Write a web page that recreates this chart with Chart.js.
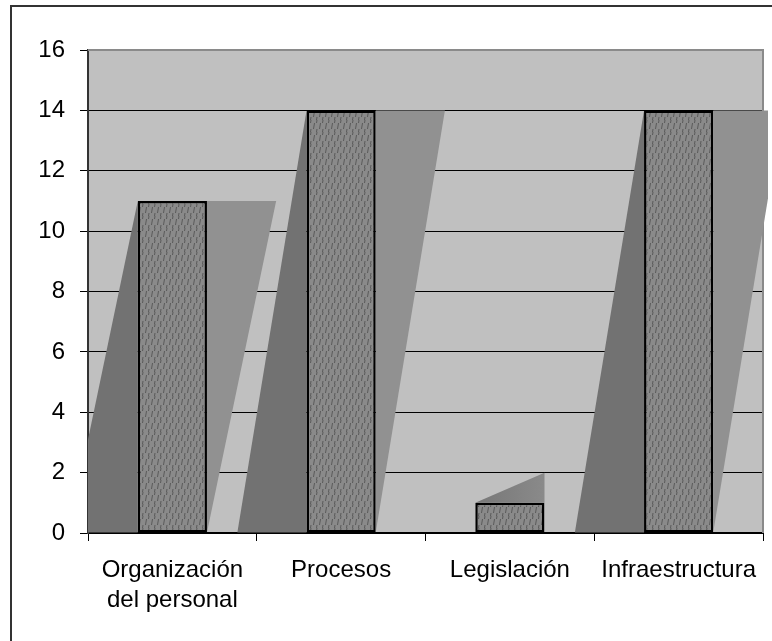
<!DOCTYPE html>
<html>
<head>
<meta charset="utf-8">
<script src="https://cdn.jsdelivr.net/npm/chart.js@4/dist/chart.umd.min.js"></script>
<style>
  html, body { margin:0; padding:0; background:#fff; overflow:hidden; }
  #frame { position:absolute; left:10px; top:5px; width:800px; height:700px; border:2px solid #333; box-sizing:border-box; }
  #wrap { position:absolute; left:0; top:0; width:772px; height:641px; }
</style>
</head>
<body>
<div id="frame"></div>
<div id="wrap"><canvas id="c" width="772" height="641"></canvas></div>
<script>
const categories = [['Organización', 'del personal'], 'Procesos', 'Legislación', 'Infraestructura'];
const values = [11, 14, 1, 14];
const yMin = 0;
const yMax = 16;
const yStep = 2;

function makePattern() {
  const c = document.createElement('canvas');
  c.width = 6; c.height = 12;
  const x = c.getContext('2d');
  x.fillStyle = '#8a8a8a';
  x.fillRect(0, 0, 6, 12);
  x.strokeStyle = '#5a5a5a';
  x.lineWidth = 1;
  x.beginPath();
  x.moveTo(1.5, 9); x.lineTo(2.5, 3);
  x.moveTo(4.5, 12); x.lineTo(5, 9);
  x.moveTo(4.5, 3); x.lineTo(5, 0);
  x.stroke();
  return x.createPattern(c, 'repeat');
}

const plotDecor = {
  id: 'plotDecor',
  beforeDraw(chart) {
    const { ctx, chartArea: a } = chart;
    ctx.save();
    ctx.fillStyle = '#c0c0c0';
    ctx.fillRect(a.left, a.top, a.right - a.left, a.bottom - a.top);
    ctx.restore();
  },
  beforeDatasetsDraw(chart) {
    const { ctx, chartArea: a } = chart;
    const ys = chart.scales.y;
    ctx.save();
    // plot border (top/right)
    ctx.strokeStyle = '#8a8a8a';
    ctx.lineWidth = 2;
    ctx.beginPath();
    ctx.moveTo(a.left, a.top);
    ctx.lineTo(a.right, a.top);
    ctx.lineTo(a.right, a.bottom);
    ctx.stroke();
    // shadows
    ctx.beginPath();
    ctx.rect(a.left, a.top - 2, a.right - a.left + 5, a.bottom - a.top + 2);
    ctx.clip();
    const meta = chart.getDatasetMeta(0);
    meta.data.forEach((el, i) => {
      const p = el.getProps(['x', 'y', 'base', 'width'], true);
      const L = p.x - p.width / 2, R = p.x + p.width / 2, s = p.width;
      const top = p.y, y0 = p.base;
      if (y0 - top > s) {
        ctx.fillStyle = '#727272';
        ctx.beginPath();
        ctx.moveTo(L - s, y0); ctx.lineTo(L, top); ctx.lineTo(L, y0); ctx.closePath();
        ctx.fill();
        ctx.fillStyle = '#919191';
        ctx.beginPath();
        ctx.moveTo(R, y0); ctx.lineTo(R + s, top); ctx.lineTo(R, top); ctx.closePath();
        ctx.fill();
      } else {
        const yUp = ys.getPixelForValue(values[i] + 1);
        const g = ctx.createLinearGradient(L, 0, R, 0);
        g.addColorStop(0, '#777777');
        g.addColorStop(1, '#8a8a8a');
        ctx.fillStyle = g;
        ctx.beginPath();
        ctx.moveTo(L, top); ctx.lineTo(R, yUp); ctx.lineTo(R, top); ctx.closePath();
        ctx.fill();
      }
    });
    ctx.restore();
  }
};

const FONT = "'Liberation Sans', Arial, sans-serif";

new Chart(document.getElementById('c'), {
  type: 'bar',
  data: {
    labels: categories,
    datasets: [{
      data: values,
      backgroundColor: makePattern(),
      borderColor: '#000',
      borderWidth: 2.5,
      borderSkipped: false,
      categoryPercentage: 1,
      barPercentage: 0.41
    }]
  },
  options: {
    responsive: false,
    animation: false,
    devicePixelRatio: 1,
    layout: { padding: { top: 50, right: 9, left: 0, bottom: 0 } },
    plugins: { legend: { display: false }, tooltip: { enabled: false } },
    scales: {
      x: {
        grid: { display: true, offset: true, drawOnChartArea: false, drawTicks: true, tickLength: 8, color: '#000', lineWidth: 1 },
        border: { display: true, color: '#000', width: 2 },
        ticks: { color: '#000', padding: 14, maxRotation: 0, autoSkip: false, font: { family: FONT, size: 24, lineHeight: 1.25 } },
        afterFit(scale) { scale.height = 108; }
      },
      y: {
        min: yMin, max: yMax,
        grid: { color: '#000', lineWidth: 1, drawTicks: true, tickLength: 8 },
        border: { display: true, color: '#333', width: 2 },
        ticks: { stepSize: yStep, color: '#000', padding: 15, font: { family: FONT, size: 24 } },
        afterFit(scale) { scale.width = 88; }
      }
    }
  },
  plugins: [plotDecor]
});
</script>
</body>
</html>
